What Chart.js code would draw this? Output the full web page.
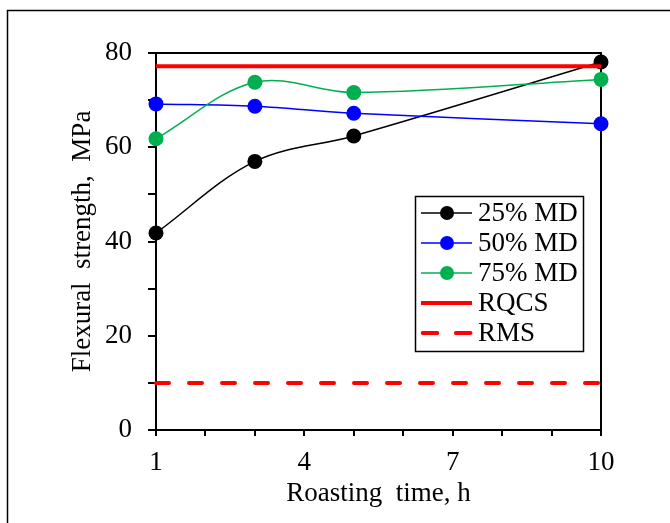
<!DOCTYPE html>
<html>
<head>
<meta charset="utf-8">
<script src="https://cdn.jsdelivr.net/npm/chart.js@4/dist/chart.umd.min.js"></script>
<style>
  html, body { margin: 0; padding: 0; background: #fff; }
</style>
</head>
<body>
<canvas id="chart" width="670" height="523"></canvas>
<script>
// values
const roastingHours = [1, 3, 5, 10];
const md25 = [41.8, 57.0, 62.4, 78.1];
const md50 = [69.2, 68.7, 67.2, 65.0];
const md75 = [61.8, 73.8, 71.6, 74.4];
const limitHours = [1, 10];
const rqcs = [77.2, 77.2];
const rms = [10, 10];
const xTickLabels = [1, 4, 7, 10];
const yTickLabels = [0, 20, 40, 60, 80];

const FONT = 'Liberation Serif, Times New Roman, serif';
const toPoints = (xs, ys) => xs.map((x, i) => ({ x, y: ys[i] }));

const seriesStyle = (label, color, values, order) => ({
  label,
  data: toPoints(roastingHours, values),
  borderColor: color,
  backgroundColor: color,
  borderWidth: 1.5,
  pointRadius: 7.5,
  pointBorderWidth: 0,
  pointBackgroundColor: color,
  tension: 0.35,
  clip: false,
  order,
});

const frame = {
  id: 'frame',
  beforeDraw(chart) {
    const { ctx } = chart;
    ctx.save();
    ctx.strokeStyle = '#000';
    ctx.lineWidth = 1.5;
    ctx.beginPath();
    ctx.moveTo(7.5, 523);
    ctx.lineTo(7.5, 10.5);
    ctx.lineTo(670, 10.5);
    ctx.stroke();
    ctx.restore();
  },
  beforeDatasetsDraw(chart) {
    const { ctx, chartArea: a } = chart;
    ctx.save();
    ctx.strokeStyle = '#000';
    ctx.lineWidth = 2;
    ctx.strokeRect(a.left, a.top, a.right - a.left, a.bottom - a.top);
    ctx.restore();
  },
};

// legend box sits inside the plot, lower right
const boxLegend = {
  id: 'boxLegend',
  afterDraw(chart) {
    const { ctx } = chart;
    const x0 = 415.5, y0 = 196.5, w = 168, h = 155;
    ctx.save();
    ctx.fillStyle = '#fff';
    ctx.fillRect(x0, y0, w, h);
    ctx.strokeStyle = '#000';
    ctx.lineWidth = 1.5;
    ctx.strokeRect(x0, y0, w, h);
    chart.data.datasets.forEach((ds, i) => {
      const y = 213 + i * 30;
      ctx.strokeStyle = ds.borderColor;
      ctx.lineWidth = ds.borderWidth;
      ctx.lineCap = ds.borderCapStyle || 'butt';
      ctx.setLineDash(ds.borderDash ? [14.6, 18.6] : []);
      ctx.beginPath();
      ctx.moveTo(ds.borderDash ? 422.7 : 421, y);
      ctx.lineTo(472, y);
      ctx.stroke();
      ctx.setLineDash([]);
      if (ds.pointRadius) {
        ctx.fillStyle = ds.pointBackgroundColor;
        ctx.beginPath();
        ctx.arc(447, y, 7, 0, Math.PI * 2);
        ctx.fill();
      }
      ctx.fillStyle = '#000';
      ctx.font = '27px ' + FONT;
      ctx.textBaseline = 'middle';
      ctx.fillText(ds.label, 478, y + 1);
    });
    ctx.restore();
  },
};

new Chart(document.getElementById('chart'), {
  type: 'line',
  data: {
    datasets: [
      seriesStyle('25% MD', '#000000', md25, 4),
      seriesStyle('50% MD', '#0000ff', md50, 3),
      seriesStyle('75% MD', '#00b050', md75, 2),
      {
        label: 'RQCS',
        data: toPoints(limitHours, rqcs),
        borderColor: '#ff0000',
        borderWidth: 4,
        pointRadius: 0,
        clip: false,
        order: 0,
      },
      {
        label: 'RMS',
        data: toPoints(limitHours, rms),
        borderColor: '#ff0000',
        borderWidth: 4,
        borderDash: [13, 20],
        borderCapStyle: 'round',
        pointRadius: 0,
        clip: false,
        order: 1,
      },
    ],
  },
  options: {
    responsive: false,
    animation: false,
    events: [],
    layout: { padding: { top: 53, right: 69, bottom: 0, left: 0 } },
    plugins: { legend: { display: false }, tooltip: { enabled: false } },
    scales: {
      x: {
        type: 'linear',
        min: 1,
        max: 10,
        afterFit: (s) => { s.height = 93; },
        border: { display: true, color: '#000', width: 2 },
        grid: { drawOnChartArea: false, drawTicks: true, tickLength: 6, color: '#000', lineWidth: 2 },
        ticks: {
          stepSize: 1,
          autoSkip: false,
          maxRotation: 0,
          padding: 11,
          color: '#000',
          font: { family: FONT, size: 27 },
          callback: (v) => (xTickLabels.includes(v) ? String(v) : ''),
        },
        title: {
          display: true,
          text: 'Roasting  time, h',
          color: '#000',
          font: { family: FONT, size: 27 },
          padding: { top: 0, bottom: 13 },
        },
      },
      y: {
        min: 0,
        max: 80,
        afterFit: (s) => { s.width = 156; },
        border: { display: true, color: '#000', width: 2 },
        grid: { drawOnChartArea: false, drawTicks: true, tickLength: 8, color: '#000', lineWidth: 2 },
        ticks: {
          stepSize: 10,
          autoSkip: false,
          padding: 16,
          color: '#000',
          font: { family: FONT, size: 27 },
          callback: (v) => (yTickLabels.includes(v) ? String(v) : ''),
        },
        title: {
          display: true,
          text: 'Flexural  strength,  MPa',
          color: '#000',
          font: { family: FONT, size: 27 },
          padding: { top: 67, bottom: 0 },
        },
      },
    },
  },
  plugins: [frame, boxLegend],
});
</script>
</body>
</html>
